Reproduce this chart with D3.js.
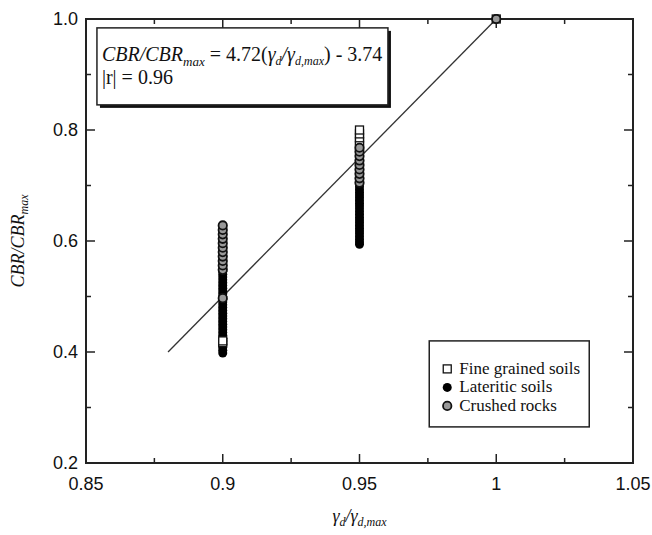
<!DOCTYPE html>
<html>
<head>
<meta charset="utf-8">
<script src="https://cdn.jsdelivr.net/npm/d3@7"></script>
<style>
  body { margin: 0; background: #fff; }
  svg text { fill: #111; }
</style>
</head>
<body>
<div id="chart"></div>
<script>
// 数据区
const xTicks = [0.85, 0.9, 0.95, 1, 1.05];
const yTicks = [0.2, 0.4, 0.6, 0.8, 1.0];
const xMinor = [0.875, 0.925, 0.975, 1.025];
const yMinor = [0.3, 0.5, 0.7, 0.9];

// 回归线两端
const fitLine = [[0.88, 0.40], [1.0, 1.0]];

// 各类土的点 (x, y)
const lateriticX09 = [0.398, 0.403, 0.408, 0.413, 0.42, 0.425, 0.43, 0.435, 0.44, 0.445, 0.45, 0.455, 0.46, 0.465, 0.47, 0.475, 0.48, 0.485, 0.49, 0.495, 0.50, 0.505, 0.51, 0.515, 0.52, 0.525, 0.53, 0.535, 0.54, 0.545, 0.55];
const lateriticX095 = [0.594, 0.598, 0.603, 0.608, 0.613, 0.618, 0.623, 0.628, 0.633, 0.638, 0.643, 0.648, 0.653, 0.658, 0.663, 0.668, 0.673, 0.678, 0.683, 0.688, 0.693, 0.698, 0.703];
const crushedX09 = [0.497, 0.548, 0.556, 0.564, 0.572, 0.58, 0.588, 0.596, 0.604, 0.612, 0.62, 0.628];
const crushedX095 = [0.705, 0.713, 0.721, 0.729, 0.737, 0.745, 0.753, 0.761, 0.768];
const fineX09 = [0.417, 0.42];
const fineX095 = [0.772, 0.779, 0.786, 0.793, 0.8];

const lateritic = [...lateriticX09.map(v => [0.9, v]), ...lateriticX095.map(v => [0.95, v]), [1.0, 1.0]];
const crushed = [...crushedX09.map(v => [0.9, v]), ...crushedX095.map(v => [0.95, v]), [1.0, 1.0]];
const fine = [...fineX09.map(v => [0.9, v]), ...fineX095.map(v => [0.95, v]), [1.0, 1.0]];

const legendLabels = ['Fine grained soils', 'Lateritic soils', 'Crushed rocks'];

// 布局
const W = 652, H = 535;
const margin = { top: 19, right: 19, bottom: 72, left: 86 };
const pw = W - margin.left - margin.right;
const ph = H - margin.top - margin.bottom;
const serif = '"Liberation Serif", "Times New Roman", serif';

const svg = d3.select('#chart').append('svg')
  .attr('width', W).attr('height', H)
  .style('font-family', '"Liberation Sans", Arial, sans-serif');

const g = svg.append('g').attr('transform', `translate(${margin.left},${margin.top})`);

const x = d3.scaleLinear().domain([0.85, 1.05]).range([0, pw]);
const y = d3.scaleLinear().domain([0.2, 1.0]).range([ph, 0]);

// 图框
g.append('rect').attr('width', pw).attr('height', ph)
  .attr('fill', 'none').attr('stroke', '#222').attr('stroke-width', 2);

// 刻度（朝内）
const tickMain = 9, tickMin = 5;
function ticks(vals, len) {
  vals.forEach(v => {
    const px = x(v);
    g.append('line').attr('x1', px).attr('x2', px).attr('y1', ph).attr('y2', ph - len).attr('stroke', '#222').attr('stroke-width', 1.5);
    g.append('line').attr('x1', px).attr('x2', px).attr('y1', 0).attr('y2', len).attr('stroke', '#222').attr('stroke-width', 1.5);
  });
}
function yticks(vals, len) {
  vals.forEach(v => {
    const py = y(v);
    g.append('line').attr('x1', 0).attr('x2', len).attr('y1', py).attr('y2', py).attr('stroke', '#222').attr('stroke-width', 1.5);
    g.append('line').attr('x1', pw).attr('x2', pw - len).attr('y1', py).attr('y2', py).attr('stroke', '#222').attr('stroke-width', 1.5);
  });
}
ticks(xTicks.slice(1, -1), tickMain);
ticks(xMinor, tickMin);
yticks(yTicks.slice(1, -1), tickMain);
yticks(yMinor, tickMin);

// 刻度标签
g.selectAll('.xl').data(xTicks).enter().append('text')
  .attr('x', d => x(d)).attr('y', ph + 27)
  .attr('text-anchor', 'middle').style('font-size', '18px')
  .text(d => d);
g.selectAll('.yl').data(yTicks).enter().append('text')
  .attr('x', -8).attr('y', d => y(d) + 6)
  .attr('text-anchor', 'end').style('font-size', '18px')
  .text(d => d.toFixed(1));

// 回归线
g.append('path')
  .attr('d', d3.line().x(d => x(d[0])).y(d => y(d[1]))(fitLine))
  .attr('fill', 'none').attr('stroke', '#333').attr('stroke-width', 1.3);

// 点
g.selectAll('.lat').data(lateritic).enter().append('circle')
  .attr('cx', d => x(d[0])).attr('cy', d => y(d[1])).attr('r', 4.5)
  .attr('fill', '#000');
g.selectAll('.fine').data(fine).enter().append('rect')
  .attr('x', d => x(d[0]) - 4).attr('y', d => y(d[1]) - 4)
  .attr('width', 8).attr('height', 8)
  .attr('fill', '#fff').attr('stroke', '#111').attr('stroke-width', 1.3);
g.selectAll('.cr').data(crushed).enter().append('circle')
  .attr('cx', d => x(d[0])).attr('cy', d => y(d[1])).attr('r', 4.2)
  .attr('fill', '#999').attr('stroke', '#111').attr('stroke-width', 1.8);

// 公式框
const eq = g.append('g').attr('transform', `translate(${x(0.854)},${y(0.984)})`);
eq.append('rect').attr('x', 3).attr('y', 3).attr('width', 291).attr('height', 77).attr('fill', '#111');
eq.append('rect').attr('width', 291).attr('height', 77).attr('fill', '#fff').attr('stroke', '#222').attr('stroke-width', 1.5);
const eqText = eq.append('text').attr('x', 5).attr('y', 33)
  .style('font-family', serif).style('font-size', '20px');
eqText.append('tspan').style('font-style', 'italic').text('CBR/CBR');
eqText.append('tspan').style('font-style', 'italic').style('font-size', '13px').attr('dy', 5).text('max');
eqText.append('tspan').attr('dy', -5).text(' = 4.72(');
eqText.append('tspan').style('font-style', 'italic').text('γ');
eqText.append('tspan').style('font-style', 'italic').style('font-size', '12px').attr('dy', 4).text('d');
eqText.append('tspan').style('font-style', 'italic').attr('dy', -4).text('/γ');
eqText.append('tspan').style('font-style', 'italic').style('font-size', '12px').attr('dy', 4).text('d,max');
eqText.append('tspan').attr('dy', -4).text(') - 3.74');
eq.append('text').attr('x', 5).attr('y', 56)
  .style('font-family', serif).style('font-size', '20px')
  .text('|r| = 0.96');

// 图例
const lg = g.append('g').attr('transform', `translate(${x(0.9755)},${y(0.42)})`);
lg.append('rect').attr('width', 160).attr('height', 86)
  .attr('fill', '#fff').attr('stroke', '#222').attr('stroke-width', 1.5);
legendLabels.forEach((lab, i) => {
  const cy = 28 + i * 18.5;
  if (i === 0) {
    lg.append('rect').attr('x', 14).attr('y', cy - 4).attr('width', 8).attr('height', 8)
      .attr('fill', '#fff').attr('stroke', '#111').attr('stroke-width', 1.3);
  } else if (i === 1) {
    lg.append('circle').attr('cx', 18).attr('cy', cy).attr('r', 4.5).attr('fill', '#000');
  } else {
    lg.append('circle').attr('cx', 18).attr('cy', cy).attr('r', 4.2)
      .attr('fill', '#999').attr('stroke', '#111').attr('stroke-width', 1.8);
  }
  lg.append('text').attr('x', 30).attr('y', cy + 5)
    .style('font-family', serif).style('font-size', '17px')
    .text(lab);
});

// 轴标题
const yl = svg.append('text')
  .attr('transform', `translate(24,${margin.top + ph / 2}) rotate(-90)`)
  .attr('text-anchor', 'middle')
  .style('font-family', serif).style('font-size', '18px').style('font-style', 'italic');
yl.append('tspan').text('CBR/CBR');
yl.append('tspan').style('font-size', '12px').attr('dy', 4).text('max');

const xl = svg.append('text')
  .attr('x', margin.left + pw / 2).attr('y', 522)
  .attr('text-anchor', 'middle')
  .style('font-family', serif).style('font-size', '18px').style('font-style', 'italic');
xl.append('tspan').text('γ');
xl.append('tspan').style('font-size', '12px').attr('dy', 4).text('d');
xl.append('tspan').attr('dy', -4).text('/γ');
xl.append('tspan').style('font-size', '12px').attr('dy', 4).text('d,max');
</script>
</body>
</html>
